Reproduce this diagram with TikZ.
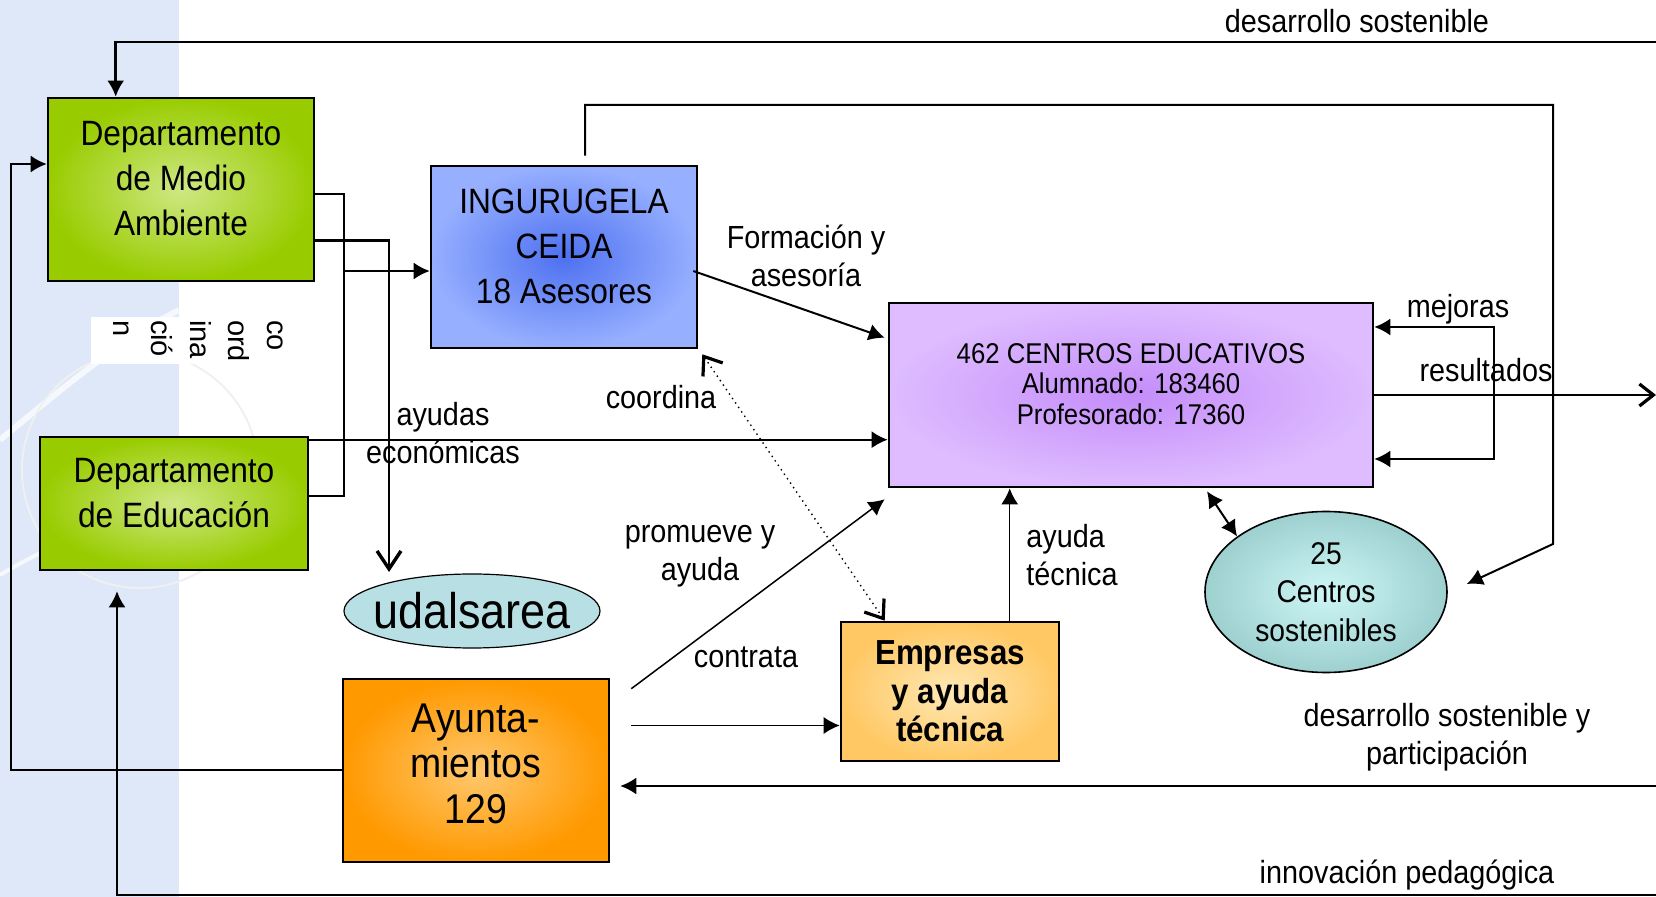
\documentclass[tikz,border=0pt]{standalone}
\usepackage{fontspec}
\setmainfont{Liberation Sans}[FakeStretch=0.9]
\newfontfamily\arialfam{Liberation Sans}
\usetikzlibrary{arrows.meta,calc,shapes.geometric}
\definecolor{fondo}{RGB}{222,232,248}
\definecolor{verde}{RGB}{153,204,0}
\definecolor{verdeclaro}{RGB}{206,232,132}
\definecolor{azul}{RGB}{150,175,255}
\definecolor{azuloscuro}{RGB}{78,112,240}
\definecolor{lila}{RGB}{222,188,255}
\definecolor{lilaoscuro}{RGB}{196,140,250}
\definecolor{naranja}{RGB}{255,153,0}
\definecolor{naranjaclaro}{RGB}{255,200,110}
\definecolor{crema}{RGB}{255,200,100}
\definecolor{cremaclaro}{RGB}{255,232,180}
\definecolor{turquesa}{RGB}{158,208,208}
\definecolor{turquesaclaro}{RGB}{206,246,246}
\definecolor{celeste}{RGB}{184,224,228}

\tikzset{
  linea/.style={line width=1pt},
  fina/.style={line width=0.75pt},
  etiq/.style={align=center, inner sep=0pt, font=\fontsize{16}{19}\selectfont},
  caja/.style={draw=black, line width=1.3pt, inner sep=0pt, align=center},
  dept/.style={caja, minimum width=133pt, minimum height=91.5pt,
    inner color=verdeclaro, outer color=verde, text depth=11pt,
    font=\fontsize{17.6}{22.5}\selectfont},
  ingbox/.style={caja, minimum width=133pt, minimum height=91pt,
    inner color=azuloscuro, outer color=azul, text depth=11pt,
    font=\fontsize{17.6}{22.5}\selectfont},
  centbox/.style={caja, minimum width=242pt, minimum height=92pt,
    inner color=lilaoscuro, outer color=lila, text depth=11pt,
    font=\fontsize{14.3}{15.25}\selectfont},
  aytobox/.style={caja, minimum width=133pt, minimum height=91.5pt,
    inner color=naranjaclaro, outer color=naranja, text depth=7pt,
    font=\fontsize{20.8}{22.75}\selectfont},
  empbox/.style={caja, minimum width=109pt, minimum height=69.5pt,
    inner color=cremaclaro, outer color=crema,
    font=\fontsize{17.4}{19.25}\selectfont\bfseries},
  udalbox/.style={ellipse, draw=black, line width=0.6pt, fill=celeste,
    inner sep=-15pt, minimum width=128pt, minimum height=37pt,
    font=\fontsize{25}{28}\selectfont},
  sostbox/.style={ellipse, draw=black, line width=0.8pt, inner sep=0pt,
    inner color=turquesaclaro, outer color=turquesa, align=center,
    minimum width=121pt, minimum height=80.5pt,
    font=\fontsize{15.7}{19.25}\selectfont},
  coordbox/.style={rotate=-90, fill=white, inner sep=0pt, align=left,
    minimum width=23.5pt, minimum height=107pt,
    font=\arialfam\fontsize{14.5}{19.25}\selectfont},
  barb/.style={-{Straight Barb[length=9pt,width=12pt,line width=1.7pt]}}
}

\begin{document}
\begin{tikzpicture}[x=0.5pt,y=-0.5pt,>={Latex[length=8pt,width=8.5pt]}]
\useasboundingbox (0,0) rectangle (1656,897);
% fondo
\fill[fondo] (0,0) rectangle (179,897);
\draw[white, line width=3pt, opacity=0.7] (0,440) .. controls (60,390) and (120,340) .. (179,310);
\draw[white, line width=2pt, opacity=0.7] (0,575) .. controls (50,545) and (110,520) .. (179,505);
\draw[gray!12, line width=1pt] (140,470) circle (118);

% cajas
\node[dept] (dma) at (181,189.5) {Departamento\\de Medio\\Ambiente};
\node[dept, minimum width=134pt, minimum height=66.5pt] (dedu) at (174,503.5) {Departamento\\de Educación};
\node[ingbox] (ing) at (564,257) {INGURUGELA\\CEIDA\\18 Asesores};
\node[centbox] (cent) at (1131,395) {462 CENTROS EDUCATIVOS\\Alumnado: 183460\\Profesorado: 17360};
\node[aytobox] (ayto) at (476,770.5) {Ayunta-\\mientos\\129};
\node[empbox] (emp) at (950,691.5) {Empresas\\y ayuda\\técnica};
\node[udalbox] (udal) at (472,611) {udalsarea};
\node[sostbox] (sost) at (1326,592) {25\\Centros\\sostenibles};
\node[coordbox] (coord) at (198,341) {co\\ord\\ina\\ció\\n};

% desarrollo sostenible (arriba)
\coordinate (arribaD) at (1656,42);
\draw[linea, line width=1.4pt, ->] (arribaD) -| ($(dma.north west)+(69,0)$);
\node[etiq] (lds) at (1357,21) {desarrollo sostenible};

% vuelta por la izquierda
\coordinate (izq) at (11,164);
\draw[linea,->] (ayto.west) -| (izq) -- (izq -| dma.west);

% innovacion pedagogica
\coordinate (abajoD) at (1656,895);
\draw[linea,->] (abajoD) -| ($(dedu.south)+(-57,20)$);
\node[etiq] (linn) at (1407,875) {innovación pedagógica};

% coordinacion de los departamentos
\coordinate (cx) at (344,271);
\draw[linea] ($(dma.east)+(0,5)$) -| (cx) |- ($(dedu.east)+(0,-7)$);
\draw[linea,->] (cx) -- (cx -| ing.west);

% udalsarea
\coordinate (udIn) at (389,572);
\draw[linea, line width=1.4pt, barb] ($(dma.east)+(0,51)$) -| (udIn);

% ayudas economicas
\draw[linea,->] ($(dedu.north east)+(0,4)$) coordinate (de1) -- (de1 -| cent.west);
\node[etiq] (lay) at (443,433) {ayudas\\económicas};

% formacion y asesoria
\draw[linea,->] ($(ing.east)+(-5,14)$) -- ($(cent.north west)+(-3,36)$);
\node[etiq] (lform) at (806,256) {Formación y\\asesoría};

% coordina
\draw[dotted, line width=0.7pt,
  {Straight Barb[length=8pt,width=12pt,line width=1.6pt]}-{Straight Barb[length=8pt,width=12pt,line width=1.6pt]}]
  ($(ing.south east)+(4,5)$) -- ($(emp.north west)+(45,0)$);
\node[etiq] (lcoord) at (661,397) {coordina};

% ayuntamientos
\draw[fina,->] ($(ayto.north east)+(21,11)$) -- ($(cent.south west)+(-3,11)$);
\node[etiq] (lprom) at (700,556) {promueve y\\ayuda};
\draw[fina,->] ($(ayto.east)+(21,-45)$) coordinate (a1) -- (a1 -| emp.west);
\node[etiq] (lcont) at (746,657) {contrata};

% ayuda tecnica
\draw[fina,->] ($(emp.north west)+(170,0)$) coordinate (e1) -- (e1 |- cent.south);
\node[etiq, anchor=west, align=left] (ltec) at (1026,555) {ayuda\\técnica};

% participacion
\coordinate (partD) at (1656,786);
\draw[linea,->] (partD) -- ($(partD -| ayto.east)+(10,0)$);
\node[etiq] (lpart) at (1447,737) {desarrollo sostenible y\\participación};

% resultados y mejoras
\coordinate (resD) at (1656,395);
\draw[linea, line width=1.3pt, -{Straight Barb[length=7pt,width=11pt,line width=1.6pt]}] (cent.east) -- (resD);
\node[etiq] (lres) at (1486,370) {resultados};
\coordinate (mjA) at (1494,327);
\coordinate (mjB) at (1494,459);
\draw[linea,<->] (mjA -| cent.east) -- (mjA) -- (mjB) -- (mjB -| cent.east);
\node[etiq] (lmej) at (1458,309) {mejoras};

% centros sostenibles
\draw[linea,<->] ($(cent.south)+(76,3)$) -- (sost.148);
\coordinate (lzA) at (1553,105);
\coordinate (lzB) at (1553,544);
\draw[linea,->] ($(ing.north)+(21,-9)$) |- (lzA) -- (lzB) -- ($(sost.east)+(19,-8)$);
\end{tikzpicture}
\end{document}
